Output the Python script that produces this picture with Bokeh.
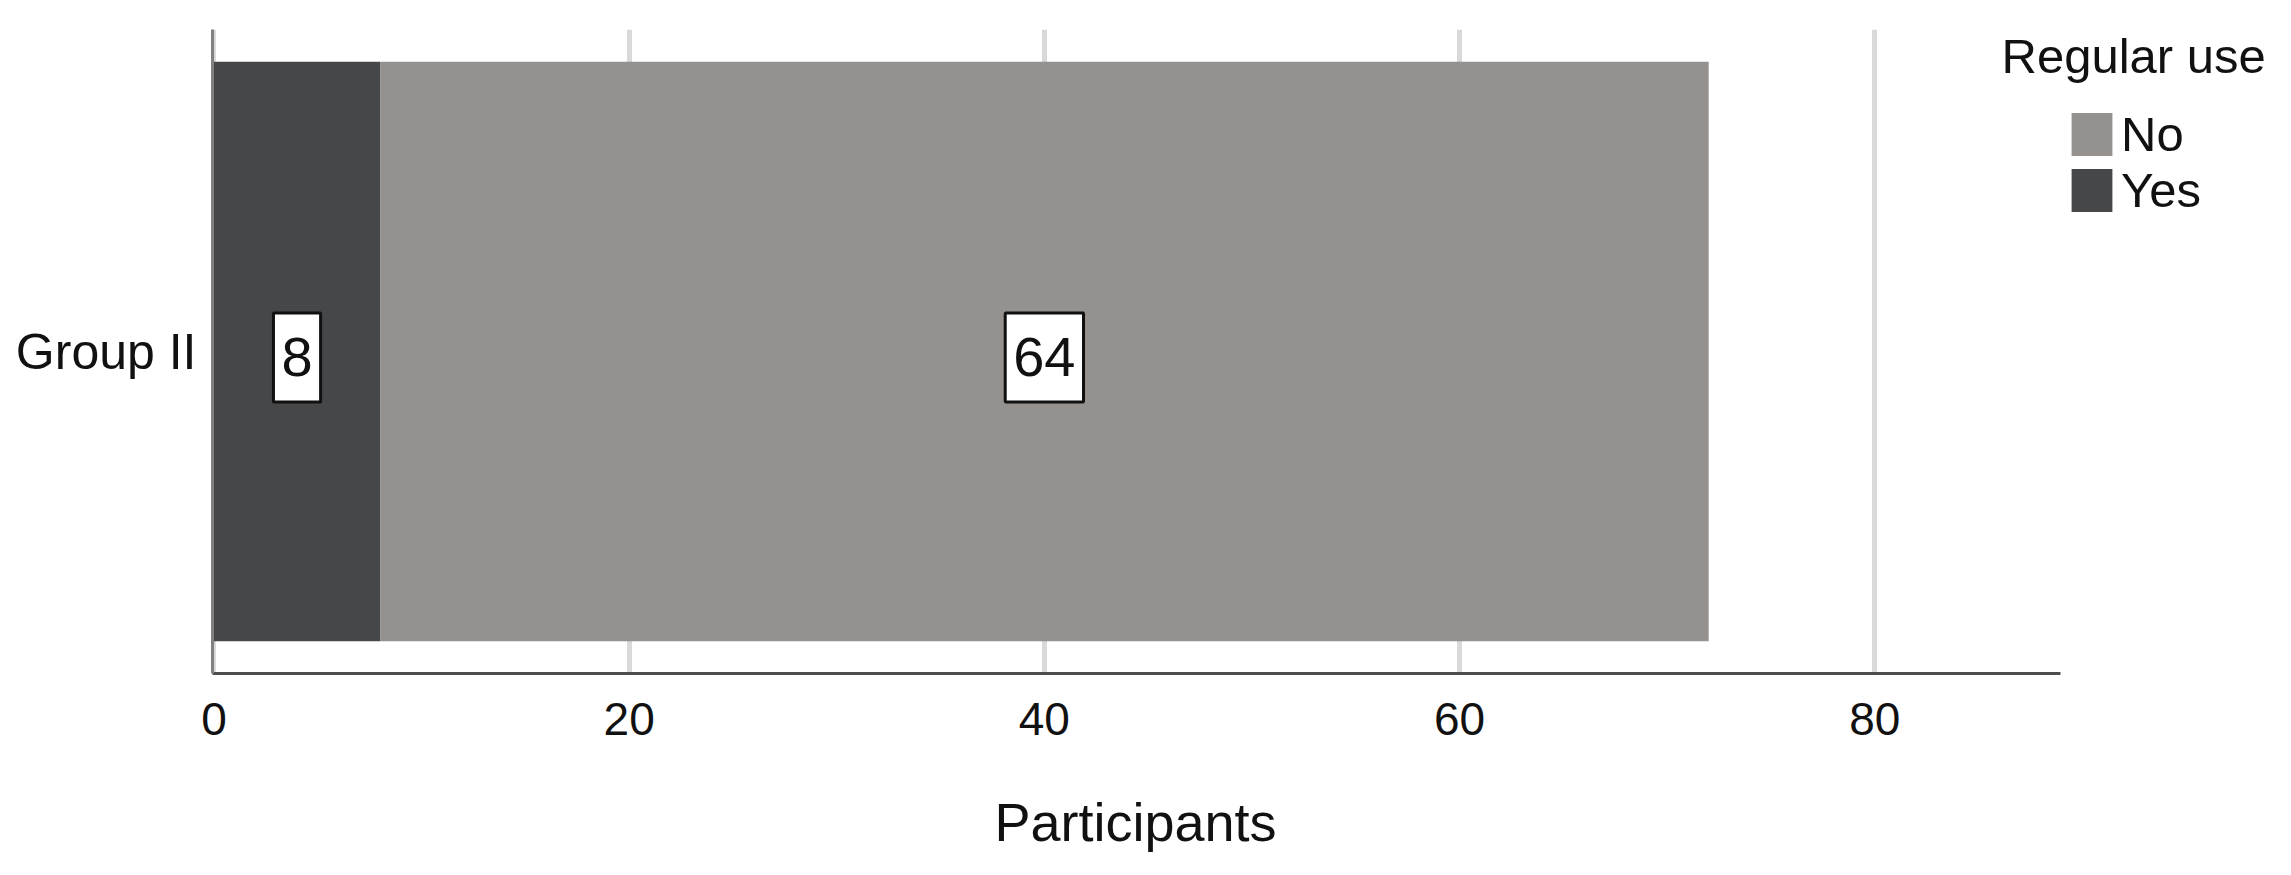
from bokeh.plotting import figure
from bokeh.models import (ColumnDataSource, Range1d, FixedTicker,
                          Legend, LegendItem, Label)
from bokeh.embed import file_html
from bokeh.resources import INLINE

# ---- data ----
groups = ["Group II"]
series = ["Yes", "No"]
yes_values = [8]
no_values = [64]
x_ticks = [0, 20, 40, 60, 80]
legend_title = "Regular use"
x_label = "Participants"
series_colors = ["#464749", "#95918f"]

FONT = "Liberation Sans"
W, H = 2283, 867
X_START, X_AXIS_END, X_END = -0.072, 88.95, 99.69

group_pos = list(range(len(groups)))

p = figure(width=W, height=H,
           y_range=Range1d(-0.5, len(groups) - 0.5),
           x_range=Range1d(X_START, X_END),
           output_backend="svg", toolbar_location=None,
           min_border_left=212, min_border_right=0,
           min_border_top=29, min_border_bottom=194)
p.outline_line_color = None
p.background_fill_color = "white"

source = ColumnDataSource(dict(pos=group_pos, Yes=yes_values, No=no_values))
renderers = p.hbar_stack(series, y="pos", height=0.9, color=series_colors,
                         line_color=None, source=source)
r_yes, r_no = renderers

# grid
p.ygrid.visible = False
p.xgrid.ticker = FixedTicker(ticks=x_ticks)
p.xgrid.grid_line_color = "#d9d9d9"
p.xgrid.grid_line_width = 5

# x axis (line limited to the data area; the legend sits in the extra frame space)
p.xaxis.bounds = (X_START, X_AXIS_END)
p.xaxis.ticker = FixedTicker(ticks=x_ticks)
p.xaxis.major_tick_line_color = None
p.xaxis.minor_tick_line_color = None
p.xaxis.axis_line_color = "#4d4d4d"
p.xaxis.axis_line_width = 3
p.xaxis.major_label_text_font = FONT
p.xaxis.major_label_text_font_size = "46px"
p.xaxis.major_label_text_color = "#111111"
p.xaxis.major_label_standoff = 23
# non-breaking spaces shift the centred label under the drawn axis line
p.xaxis.axis_label = x_label + "\u00a0" * 15
p.xaxis.axis_label_text_font = FONT
p.xaxis.axis_label_text_font_size = "54px"
p.xaxis.axis_label_text_font_style = "normal"
p.xaxis.axis_label_text_color = "#111111"
p.xaxis.axis_label_standoff = 54

# y axis
p.yaxis.ticker = FixedTicker(ticks=group_pos)
p.yaxis.major_label_overrides = {i: g for i, g in zip(group_pos, groups)}
p.yaxis.major_tick_line_color = None
p.yaxis.minor_tick_line_color = None
p.yaxis.axis_line_color = "#808080"
p.yaxis.axis_line_width = 3
p.yaxis.major_label_text_font = FONT
p.yaxis.major_label_text_font_size = "50px"
p.yaxis.major_label_text_color = "#111111"
p.yaxis.major_label_standoff = 10

# value labels (boxed)
for i in group_pos:
    cum = 0
    for vals in (yes_values, no_values):
        v = vals[i]
        p.add_layout(Label(x=cum + v / 2, y=i, y_offset=-6, text=str(v),
                           text_align="center", text_baseline="middle",
                           text_font=FONT, text_font_size="56px", text_color="#111111",
                           background_fill_color="white",
                           border_line_color="#111111", border_line_width=3,
                           padding=dict(left=8, right=8, top=25, bottom=26)))
        cum += v

# legend
legend = Legend(items=[LegendItem(label="No", renderers=[r_no]),
                       LegendItem(label="Yes", renderers=[r_yes])],
                location=(1854, 455), glyph_width=51, glyph_height=54,
                label_text_font=FONT, label_text_font_size="49px",
                label_text_color="#111111", label_standoff=4,
                spacing=0, padding=0, margin=0, label_height=54,
                border_line_color=None, background_fill_alpha=0)
p.add_layout(legend)

p.add_layout(Label(x=1789, y=618, x_units="screen", y_units="screen",
                   text=legend_title, text_font=FONT, text_font_size="49px",
                   text_color="#111111", text_baseline="alphabetic"))

open("out.html", "w").write(file_html(p, INLINE))
